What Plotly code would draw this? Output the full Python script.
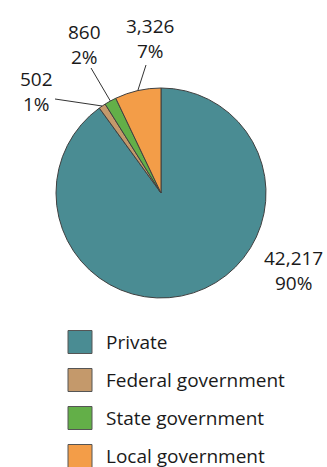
import math
import plotly.graph_objects as go

# Employment by ownership
sectors = ["Private", "Federal government", "State government", "Local government"]
values = [42217, 502, 860, 3326]
colors = ["#4A8C93", "#C4996B", "#63AF48", "#F39D48"]

W, H = 327, 467
FONT = "Open Sans"
FS = 19
OUTLINE = "#404040"

# pie placement in pixels (centre and radius)
cx, cy, r = 161, 193, 105


def px(x):
    return x / W


def py(y):
    return 1 - y / H


fig = go.Figure(
    go.Pie(
        labels=sectors,
        values=values,
        sort=False,
        direction="clockwise",
        rotation=0,
        marker=dict(colors=colors, line=dict(color=OUTLINE, width=1)),
        textinfo="none",
        hoverinfo="label+value+percent",
        showlegend=False,
        domain=dict(x=[px(cx - r), px(cx + r)], y=[py(cy + r), py(cy - r)]),
    )
)

total = sum(values)
shares = [v / total for v in values]

# label block centres (pixels) and leader-line outer ends (None = no leader)
label_pos = [(293, 270), (36, 91), (85, 44), (150, 39)]
leader_end = [None, (55, 99), (91, 68), (146, 65)]

annotations = []
shapes = []
start = 0.0
for i, (name, v, s) in enumerate(zip(sectors, values, shares)):
    mid = (start + s / 2) * 360.0
    start += s
    lx, ly = label_pos[i]
    annotations.append(dict(
        x=px(lx), y=py(ly), xref="paper", yref="paper",
        text=f"{v:,}<br>{round(s * 100):d}%",
        showarrow=False, xanchor="center", yanchor="middle",
        font=dict(family=FONT, size=FS, color="#1a1a1a"),
    ))
    if leader_end[i] is not None:
        ex = cx + r * math.sin(math.radians(mid))
        ey = cy - r * math.cos(math.radians(mid))
        ox, oy = leader_end[i]
        shapes.append(dict(
            type="line", xref="paper", yref="paper",
            x0=px(ox), y0=py(oy), x1=px(ex), y1=py(ey),
            line=dict(color="#333333", width=1),
        ))

# legend drawn as swatches with text
leg_y0, leg_dy = 342, 38
for i, (name, c) in enumerate(zip(sectors, colors)):
    yc = leg_y0 + i * leg_dy
    shapes.append(dict(
        type="rect", xref="paper", yref="paper",
        x0=px(68), x1=px(92), y0=py(yc + 11.5), y1=py(yc - 11.5),
        fillcolor=c, line=dict(color="#555555", width=1),
    ))
    annotations.append(dict(
        x=px(104), y=py(yc), xref="paper", yref="paper",
        text=name, showarrow=False, xanchor="left", yanchor="middle",
        font=dict(family=FONT, size=FS, color="#1a1a1a"),
    ))

# heading (runs off the top edge)
annotations.append(dict(
    x=px(14), y=py(8), xref="paper", yref="paper",
    text="<b>U.S.</b>", showarrow=False, xanchor="left", yanchor="bottom",
    font=dict(family=FONT, size=FS, color="#1a1a1a"),
))

fig.update_layout(
    width=W, height=H,
    margin=dict(l=0, r=0, t=0, b=0),
    paper_bgcolor="white", plot_bgcolor="white",
    annotations=annotations, shapes=shapes,
)

fig.write_html("out.html")
